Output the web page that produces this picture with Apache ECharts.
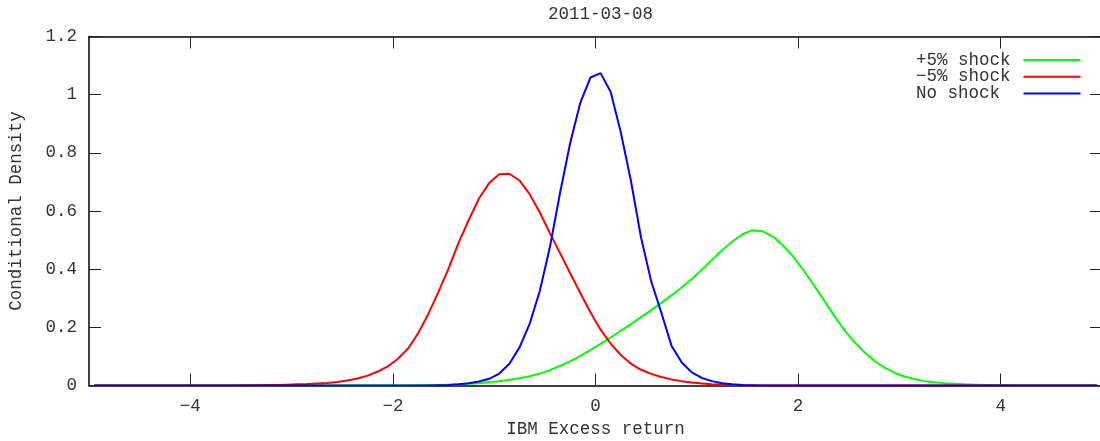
<!DOCTYPE html>
<html>
<head>
<meta charset="utf-8">
<title>Conditional Density</title>
<script src="https://cdn.jsdelivr.net/npm/echarts@6/dist/echarts.min.js"></script>
<style>
  html, body { margin: 0; padding: 0; background: #fff; }
  #chart { width: 1100px; height: 441px; }
</style>
</head>
<body>
<div id="chart"></div>
<script>
// Return grid (midpoints of 0.1-wide bins on [-5, 5])
const returnGrid = [
  -4.95, -4.85, -4.75, -4.65, -4.55, -4.45, -4.35, -4.25, -4.15, -4.05,
  -3.95, -3.85, -3.75, -3.65, -3.55, -3.45, -3.35, -3.25, -3.15, -3.05,
  -2.95, -2.85, -2.75, -2.65, -2.55, -2.45, -2.35, -2.25, -2.15, -2.05,
  -1.95, -1.85, -1.75, -1.65, -1.55, -1.45, -1.35, -1.25, -1.15, -1.05,
  -0.95, -0.85, -0.75, -0.65, -0.55, -0.45, -0.35, -0.25, -0.15, -0.05,
   0.05,  0.15,  0.25,  0.35,  0.45,  0.55,  0.65,  0.75,  0.85,  0.95,
   1.05,  1.15,  1.25,  1.35,  1.45,  1.55,  1.65,  1.75,  1.85,  1.95,
   2.05,  2.15,  2.25,  2.35,  2.45,  2.55,  2.65,  2.75,  2.85,  2.95,
   3.05,  3.15,  3.25,  3.35,  3.45,  3.55,  3.65,  3.75,  3.85,  3.95,
   4.05,  4.15,  4.25,  4.35,  4.45,  4.55,  4.65,  4.75,  4.85,  4.95
];

// Conditional density of IBM excess return after a +5% market shock
const densityPlusShock = [
  0, 0, 0, 0, 0, 0, 0, 0, 0, 0,
  0, 0, 0, 0, 0, 0, 0, 0, 0, 0,
  0, 0, 0, 0, 0, 0, 0, 0, 0, 0,
  0, 0, 0.001, 0.002, 0.002, 0.003, 0.004, 0.006, 0.008, 0.012,
  0.015, 0.020, 0.025, 0.032, 0.041, 0.053, 0.067, 0.083, 0.102, 0.122,
  0.143, 0.165, 0.188, 0.211, 0.235, 0.259, 0.284, 0.310, 0.337, 0.366,
  0.398, 0.432, 0.465, 0.495, 0.520, 0.534, 0.530, 0.512, 0.482, 0.444,
  0.398, 0.348, 0.296, 0.243, 0.194, 0.152, 0.116, 0.086, 0.062, 0.044,
  0.031, 0.022, 0.015, 0.011, 0.008, 0.006, 0.004, 0.003, 0.002, 0.001,
  0.001, 0, 0, 0, 0, 0, 0, 0, 0, 0
];

// ... after a -5% market shock
const densityMinusShock = [
  0, 0, 0, 0, 0, 0, 0, 0, 0, 0,
  0, 0, 0, 0, 0, 0.001, 0.001, 0.002, 0.002, 0.003,
  0.004, 0.005, 0.007, 0.009, 0.012, 0.017, 0.024, 0.034, 0.048, 0.066,
  0.092, 0.127, 0.180, 0.246, 0.322, 0.403, 0.492, 0.570, 0.643, 0.696,
  0.726, 0.728, 0.705, 0.658, 0.595, 0.524, 0.455, 0.386, 0.318, 0.252,
  0.192, 0.144, 0.105, 0.075, 0.054, 0.040, 0.029, 0.021, 0.015, 0.010,
  0.007, 0.004, 0.003, 0.002, 0.001, 0, 0, 0, 0, 0,
  0, 0, 0, 0, 0, 0, 0, 0, 0, 0,
  0, 0, 0, 0, 0, 0, 0, 0, 0, 0,
  0, 0, 0, 0, 0, 0, 0, 0, 0, 0
];

// ... with no market shock
const densityNoShock = [
  0, 0, 0, 0, 0, 0, 0, 0, 0, 0,
  0, 0, 0, 0, 0, 0, 0, 0, 0, 0,
  0, 0, 0, 0, 0, 0, 0, 0, 0, 0,
  0, 0, 0, 0, 0.001, 0.002, 0.004, 0.008, 0.014, 0.023,
  0.041, 0.075, 0.131, 0.212, 0.325, 0.476, 0.662, 0.834, 0.972, 1.059,
  1.074, 1.009, 0.870, 0.703, 0.508, 0.358, 0.250, 0.137, 0.080, 0.045,
  0.026, 0.015, 0.008, 0.004, 0.002, 0.001, 0, 0, 0, 0,
  0, 0, 0, 0, 0, 0, 0, 0, 0, 0,
  0, 0, 0, 0, 0, 0, 0, 0, 0, 0,
  0, 0, 0, 0, 0, 0, 0, 0, 0, 0
];

const seriesNames = ['+5% shock', '\u22125% shock', 'No shock'];
const seriesColors = ['#00ff00', '#ff0000', '#0000ff'];
const xTickValues = [-4, -2, 0, 2, 4];
const chartTitle = '2011-03-08';
const xAxisTitle = 'IBM Excess return';
const yAxisTitle = 'Conditional Density';

const FONT = "'Liberation Mono', 'DejaVu Sans Mono', monospace";
const FONT_SIZE = 17.5;
const TEXT_COLOR = '#333';

function pairs(xs, ys) {
  return xs.map((x, i) => [x, ys[i]]);
}

const tickStyle = { show: true, inside: true, length: 12, lineStyle: { color: '#222', width: 1 } };
const borderStyle = { show: true, onZero: false, lineStyle: { color: '#000', width: 1.5 } };

const chart = echarts.init(document.getElementById('chart'), null, { renderer: 'canvas' });

chart.setOption({
  backgroundColor: '#fff',
  animation: false,
  textStyle: { fontFamily: FONT },
  title: {
    text: chartTitle,
    left: 595.5,
    textAlign: 'center',
    top: 0,
    textStyle: { fontFamily: FONT, fontSize: FONT_SIZE, fontWeight: 'normal', color: TEXT_COLOR }
  },
  grid: {
    left: 89, top: 36.5, width: 1013, height: 349,
    containLabel: false,
    outerBoundsMode: 'none'
  },
  legend: {
    data: seriesNames,
    orient: 'vertical',
    align: 'right',
    left: 916,
    top: 51,
    icon: 'rect',
    itemWidth: 57,
    itemHeight: 2,
    itemGap: -1.3,
    padding: 0,
    formatter: name => name.padEnd(9, ' '),
    textStyle: {
      fontFamily: FONT, fontSize: FONT_SIZE, color: TEXT_COLOR,
      lineHeight: 16.7, padding: [0, 8, 0, 0]
    }
  },
  xAxis: [
    {
      type: 'value', min: -5, max: 5, position: 'bottom',
      axisLine: borderStyle,
      axisTick: Object.assign({}, tickStyle, { customValues: xTickValues }),
      axisLabel: {
        customValues: xTickValues,
        margin: 12,
        fontFamily: FONT, fontSize: FONT_SIZE, color: TEXT_COLOR,
        formatter: v => String(v).replace('-', '\u2212')
      },
      splitLine: { show: false },
      name: xAxisTitle,
      nameLocation: 'middle',
      nameGap: 35,
      nameTextStyle: { fontFamily: FONT, fontSize: FONT_SIZE, color: TEXT_COLOR }
    },
    {
      type: 'value', min: -5, max: 5, position: 'top',
      axisLine: borderStyle,
      axisTick: Object.assign({}, tickStyle, { customValues: xTickValues }),
      axisLabel: { show: false },
      splitLine: { show: false }
    }
  ],
  yAxis: [
    {
      type: 'value', min: 0, max: 1.2, interval: 0.2, position: 'left',
      axisLine: borderStyle,
      axisTick: tickStyle,
      axisLabel: { margin: 12, fontFamily: FONT, fontSize: FONT_SIZE, color: TEXT_COLOR },
      splitLine: { show: false },
      name: yAxisTitle,
      nameLocation: 'middle',
      nameGap: 64,
      nameRotate: 90,
      nameTextStyle: { fontFamily: FONT, fontSize: FONT_SIZE, color: TEXT_COLOR }
    },
    {
      type: 'value', min: 0, max: 1.2, interval: 0.2, position: 'right',
      axisLine: borderStyle,
      axisTick: tickStyle,
      axisLabel: { show: false },
      splitLine: { show: false }
    }
  ],
  series: [
    {
      name: seriesNames[0], type: 'line', data: pairs(returnGrid, densityPlusShock),
      showSymbol: false, color: seriesColors[0], lineStyle: { width: 2, color: seriesColors[0] }
    },
    {
      name: seriesNames[1], type: 'line', data: pairs(returnGrid, densityMinusShock),
      showSymbol: false, color: seriesColors[1], lineStyle: { width: 2, color: seriesColors[1] }
    },
    {
      name: seriesNames[2], type: 'line', data: pairs(returnGrid, densityNoShock),
      showSymbol: false, color: seriesColors[2], lineStyle: { width: 2, color: seriesColors[2] }
    }
  ]
});
</script>
</body>
</html>
